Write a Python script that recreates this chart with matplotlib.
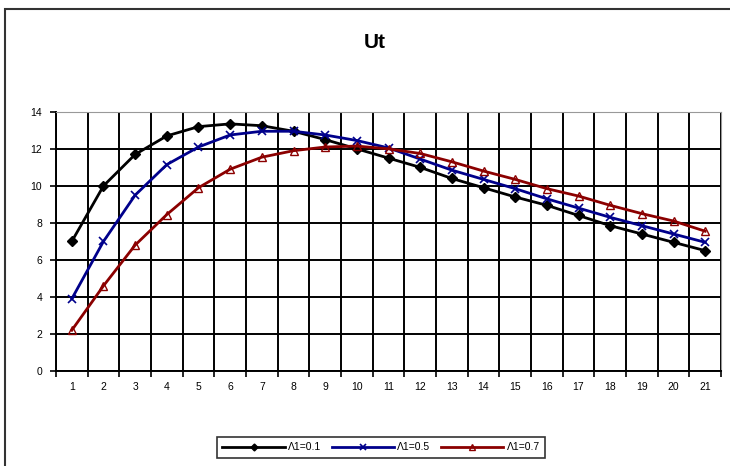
import numpy as np
import matplotlib
matplotlib.use('Agg')
import matplotlib.pyplot as plt
from matplotlib.patches import Rectangle

plt.rcParams['font.family'] = ['Liberation Sans', 'DejaVu Sans']

# steg 1..21
steg = list(range(1, 22))
ut_01 = [7.0, 10.0, 11.7, 12.7, 13.2, 13.35, 13.25, 12.95, 12.5, 12.0, 11.5,
         11.0, 10.4, 9.9, 9.4, 8.95, 8.4, 7.85, 7.4, 6.95, 6.5]
ut_05 = [3.9, 7.0, 9.5, 11.15, 12.1, 12.75, 12.95, 12.95, 12.75, 12.45, 12.05,
         11.45, 10.85, 10.35, 9.85, 9.3, 8.8, 8.3, 7.85, 7.4, 6.95]
ut_07 = [2.2, 4.6, 6.8, 8.45, 9.9, 10.9, 11.55, 11.9, 12.1, 12.15, 12.0,
         11.75, 11.3, 10.8, 10.35, 9.85, 9.45, 8.95, 8.5, 8.1, 7.55]
etiketter = ['Λ1=0.1', 'Λ1=0.5', 'Λ1=0.7']

fig = plt.figure(figsize=(7.3, 4.66), dpi=100)
ax = fig.add_axes([0.0767, 0.204, 0.911, 0.556])

ax.plot(steg, ut_01, color='black', lw=2, marker='D', ms=5, label=etiketter[0])
ax.plot(steg, ut_05, color='#00008B', lw=2, marker='x', ms=6, mew=1.2, label=etiketter[1])
ax.plot(steg, ut_07, color='#8B0000', lw=2, marker='^', ms=6, mfc='none', mew=1.0, label=etiketter[2])

ax.set_xlim(0.5, 21.5)
ax.set_ylim(0, 14)
ax.set_yticks(range(0, 15, 2))
ax.set_xticks(np.arange(0.5, 22, 1))
ax.set_xticklabels([])
ax.set_xticks(steg, minor=True)
ax.set_xticklabels([str(s) for s in steg], minor=True)
ax.tick_params(axis='x', which='minor', length=0, labelsize=7.5, pad=8)
ax.tick_params(axis='x', which='major', length=4, width=1.2, direction='out')
ax.tick_params(axis='y', length=4, width=1.2, labelsize=7.5, pad=6)
ax.grid(True, which='major', color='black', lw=1.4)
ax.set_axisbelow(True)
for s in ['left', 'bottom']:
    ax.spines[s].set_linewidth(1.4)
for s in ['top', 'right']:
    ax.spines[s].set_color('#999999')

fig.text(0.514, 0.908, 'Ut', ha='center', va='center', fontsize=15, fontweight='bold')

leg = fig.legend(loc='center', bbox_to_anchor=(0.522, 0.04), ncol=3, fontsize=7.5,
                 frameon=True, fancybox=False, edgecolor='black', handlelength=6,
                 columnspacing=1.0, handletextpad=0.3, borderpad=0.5, markerscale=0.7)
leg.get_frame().set_linewidth(1.2)

# ram runt diagrammet
fig.patches.append(Rectangle((0.007, -0.01), 1.0, 0.99, transform=fig.transFigure,
                             fill=False, edgecolor='#333333', lw=1.5))

fig.savefig('out.png', dpi=100)
